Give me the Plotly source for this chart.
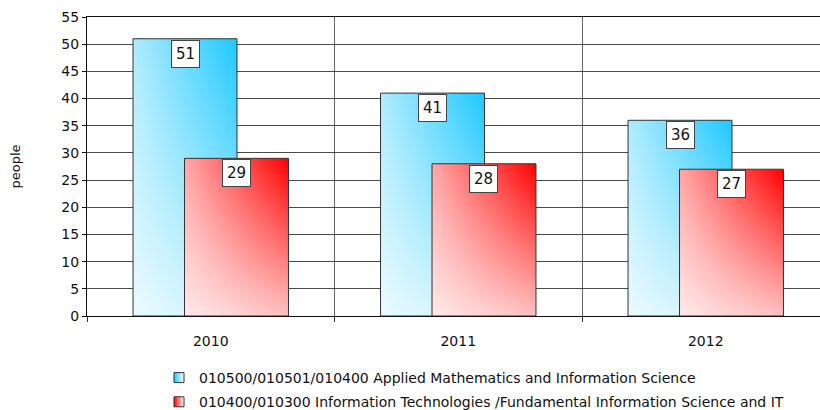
import plotly.graph_objects as go

years = ["2010", "2011", "2012"]
series_names = [
    "010500/010501/010400 Applied Mathematics and Information Science",
    "010400/010300 Information Technologies /Fundamental Information Science and IT",
]
applied_math = [51, 41, 36]
info_tech = [29, 28, 27]
y_ticks = list(range(0, 56, 5))

colors = ["#1cc8ff", "#ff0000"]
light = ["rgb(176,236,255)", "rgb(255,168,168)"]
bar_width = 0.42
offsets = [-0.104, 0.104]
FONT = "DejaVu Sans"

fig = go.Figure()

for s, vals in enumerate([applied_math, info_tech]):
    for i, v in enumerate(vals):
        x0 = i + offsets[s] - bar_width / 2
        x1 = i + offsets[s] + bar_width / 2
        xs = [x0, x1, x1, x0, x0]
        ys = [0, 0, v, v, 0]
        fig.add_trace(go.Scatter(
            x=xs, y=ys, mode="lines", fill="toself",
            line=dict(width=0), showlegend=False, hoverinfo="skip",
            fillgradient=dict(type="horizontal", start=x0, stop=x1,
                              colorscale=[[0, light[s]], [1, colors[s]]]),
        ))
        fig.add_trace(go.Scatter(
            x=xs, y=ys, mode="lines", fill="toself",
            line=dict(width=1, color="#333333"), showlegend=False, hoverinfo="skip",
            fillgradient=dict(type="vertical", start=0, stop=v,
                              colorscale=[[0, "rgba(255,255,255,0.75)"], [1, "rgba(255,255,255,0)"]]),
        ))
        fig.add_annotation(
            x=i + offsets[s], y=v, text=str(v), showarrow=False,
            yanchor="top", yshift=-1, bgcolor="white", bordercolor="#444444",
            borderwidth=1, borderpad=4, font=dict(family=FONT, size=15, color="#111111"),
        )

for s in range(2):
    fig.add_trace(go.Scatter(
        x=[None], y=[None], mode="markers", name=series_names[s],
        legendgroup="g%d" % s,
        marker=dict(symbol="square", size=10, color=colors[s],
                    gradient=dict(type="horizontal", color="white"),
                    line=dict(width=1, color="#333333")),
    ))

fig.add_annotation(
    xref="paper", yref="paper", x=-72 / 733, y=0.5, text="people",
    textangle=-90, showarrow=False, xanchor="center", yanchor="middle",
    font=dict(family=FONT, size=13, color="#111111"),
)

fig.update_layout(
    width=820, height=410,
    margin=dict(l=87, r=0, t=17, b=94, autoexpand=False),
    paper_bgcolor="white", plot_bgcolor="white",
    font=dict(family=FONT, size=14, color="#111111"),
    showlegend=True,
    legend=dict(xref="container", yref="container", x=159 / 820, y=1 - 362 / 410,
                xanchor="left", yanchor="top", font=dict(family=FONT, size=14),
                itemwidth=30, tracegroupgap=3, traceorder="grouped",
                bgcolor="rgba(0,0,0,0)"),
    xaxis=dict(
        range=[-0.5, -0.5 + 733 / 247.5],
        tickmode="array", tickvals=list(range(len(years))), ticktext=years,
        ticks="", showgrid=False, zeroline=False,
        showline=True, linecolor="#111111", linewidth=1, mirror=True,
        tickfont=dict(size=14), ticklabelstandoff=12,
        minor=dict(tickmode="array", tickvals=[i + 0.5 for i in range(-1, len(years))],
                   ticks="outside", ticklen=5, tickcolor="#333333",
                   showgrid=True, gridcolor="#666666", gridwidth=1),
    ),
    yaxis=dict(
        range=[0, 55], tickmode="array", tickvals=y_ticks,
        ticks="outside", ticklen=4, tickcolor="#111111",
        showgrid=True, gridcolor="#4a4a4a", gridwidth=1, zeroline=False,
        showline=True, linecolor="#111111", linewidth=1,
        tickfont=dict(size=14),
    ),
)

fig.write_html("out.html")
